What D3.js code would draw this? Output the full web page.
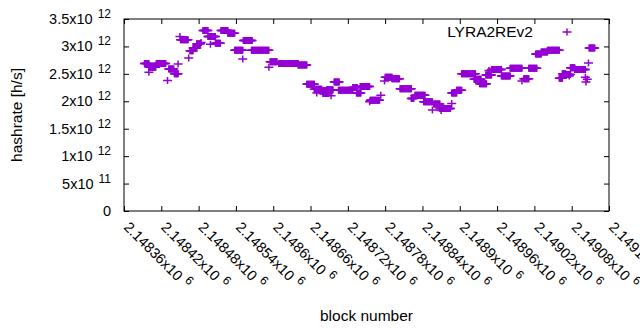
<!DOCTYPE html>
<html>
<head>
<meta charset="utf-8">
<script src="https://cdn.jsdelivr.net/npm/d3@7"></script>
<style>
  body { margin: 0; background: #fff; }
  svg { display: block; font-family: "Liberation Sans", Arial, sans-serif; }
</style>
</head>
<body>
<div id="chart"></div>
<script>
// hashrate runs: consecutive blocks sharing the same estimate (x1e12 h/s)
const runFirst = [2148393, 2148400, 2148400, 2148412, 2148430, 2148432, 2148441, 2148447, 2148450, 2148451,
  2148464, 2148466, 2148471, 2148477, 2148484, 2148487, 2148495, 2148499, 2148507, 2148516,
  2148527, 2148538, 2148551, 2148552, 2148565, 2148593, 2148595, 2148609, 2148640, 2148654,
  2148666, 2148670, 2148677, 2148680, 2148686, 2148693, 2148698, 2148705, 2148728, 2148734,
  2148740, 2148755, 2148756, 2148773, 2148779, 2148780, 2148791, 2148804, 2148822, 2148828,
  2148842, 2148856, 2148858, 2148868, 2148870, 2148887, 2148887, 2148895, 2148903, 2148923,
  2148932, 2148942, 2148947, 2148951, 2148967, 2148981, 2149000, 2149003, 2149011, 2149022,
  2149031, 2149041, 2149060, 2149065, 2149070, 2149076, 2149078, 2149085, 2149102, 2149103,
  2149105, 2149107, 2149108];
const runLast = [2148400, 2148411, 2148400, 2148427, 2148430, 2148440, 2148447, 2148447, 2148450, 2148463,
  2148464, 2148471, 2148477, 2148483, 2148484, 2148495, 2148507, 2148499, 2148515, 2148527,
  2148538, 2148551, 2148551, 2148566, 2148593, 2148593, 2148606, 2148640, 2148654, 2148666,
  2148678, 2148670, 2148688, 2148689, 2148696, 2148693, 2148706, 2148728, 2148735, 2148741,
  2148755, 2148755, 2148771, 2148773, 2148779, 2148791, 2148803, 2148822, 2148826, 2148844,
  2148856, 2148856, 2148868, 2148885, 2148870, 2148887, 2148895, 2148903, 2148925, 2148934,
  2148943, 2148951, 2148947, 2148967, 2148981, 2149000, 2149000, 2149011, 2149024, 2149031,
  2149041, 2149060, 2149065, 2149070, 2149078, 2149076, 2149085, 2149102, 2149102, 2149103,
  2149105, 2149107, 2149117];
const runRate = [2.69, 2.62, 2.53, 2.69, 2.38, 2.59, 2.50, 2.68, 3.18, 3.12,
  2.79, 2.92, 2.97, 3.05, 3.07, 3.29, 3.18, 3.04, 3.06, 3.29,
  3.24, 2.93, 2.77, 3.11, 2.93, 2.62, 2.72, 2.69, 2.66, 2.31,
  2.22, 2.15, 2.19, 2.14, 2.21, 2.10, 2.35, 2.20, 2.25, 2.15,
  2.27, 1.99, 2.02, 2.11, 2.37, 2.44, 2.41, 2.23, 2.05, 2.11,
  1.99, 1.84, 1.95, 1.87, 1.83, 1.96, 2.15, 2.20, 2.50, 2.40,
  2.32, 2.48, 2.56, 2.58, 2.46, 2.60, 2.37, 2.41, 2.60, 2.86,
  2.90, 2.93, 2.42, 2.50, 2.49, 2.46, 2.61, 2.58, 2.44, 2.35,
  2.40, 2.70, 2.97];

const xTickValues = [2148360, 2148420, 2148480, 2148540, 2148600, 2148660, 2148720,
  2148780, 2148840, 2148900, 2148960, 2149020, 2149080, 2149140];
const xTickLabels = ["2.14836", "2.14842", "2.14848", "2.14854", "2.1486", "2.14866", "2.14872",
  "2.14878", "2.14884", "2.1489", "2.14896", "2.14902", "2.14908", "2.14914"];
const yTickValues = [0, 0.5e12, 1e12, 1.5e12, 2e12, 2.5e12, 3e12, 3.5e12];
const yTickMantissa = ["0", "5x10", "1x10", "1.5x10", "2x10", "2.5x10", "3x10", "3.5x10"];
const yTickExponent = ["", "11", "12", "12", "12", "12", "12", "12"];

const width = 640;
const height = 330;
const margin = { top: 19, right: 31, bottom: 119, left: 124 };
const purple = "#9400d3";

const svg = d3.select("#chart")
  .append("svg")
  .attr("width", width)
  .attr("height", height)
  .style("overflow", "hidden");

const x = d3.scaleLinear()
  .domain([xTickValues[0], xTickValues[xTickValues.length - 1]])
  .range([margin.left, width - margin.right]);
const y = d3.scaleLinear()
  .domain([0, 3.5e12])
  .range([height - margin.bottom, margin.top]);

// ticks on all four sides, pointing inward
const tick = 5;
svg.append("g")
  .attr("transform", `translate(0,${y(0)})`)
  .call(d3.axisBottom(x).tickValues(xTickValues).tickSize(-tick).tickFormat(""));
svg.append("g")
  .attr("transform", `translate(0,${y(3.5e12)})`)
  .call(d3.axisTop(x).tickValues(xTickValues).tickSize(-tick).tickFormat(""));
svg.append("g")
  .attr("transform", `translate(${x.range()[0]},0)`)
  .call(d3.axisLeft(y).tickValues(yTickValues).tickSize(-tick).tickFormat(""));
svg.append("g")
  .attr("transform", `translate(${x.range()[1]},0)`)
  .call(d3.axisRight(y).tickValues(yTickValues).tickSize(-tick).tickFormat(""));
svg.selectAll(".domain").remove();
svg.selectAll(".tick line").attr("stroke", "#000");

svg.append("rect")
  .attr("x", x.range()[0])
  .attr("y", y.range()[1])
  .attr("width", x.range()[1] - x.range()[0])
  .attr("height", y.range()[0] - y.range()[1])
  .attr("fill", "none")
  .attr("stroke", "#000");

// y tick labels with superscript exponent
const yLab = svg.append("g")
  .attr("font-size", 14.5)
  .attr("fill", "#000");
yTickValues.forEach((v, i) => {
  const t = yLab.append("text")
    .attr("x", 111)
    .attr("y", y(v) + 5)
    .attr("text-anchor", "end");
  if (yTickExponent[i]) {
    t.append("tspan").text(yTickMantissa[i]);
    t.append("tspan").attr("dx", 5).attr("dy", -6).attr("font-size", 12).text(yTickExponent[i]);
  } else {
    t.text(yTickMantissa[i]);
  }
});

// x tick labels, rotated
const xLab = svg.append("g")
  .attr("font-size", 14.5)
  .attr("fill", "#000");
xTickValues.forEach((v, i) => {
  const t = xLab.append("text")
    .attr("transform", `translate(${x(v) - 1},${y(0) + 17}) rotate(45)`);
  t.append("tspan").text(xTickLabels[i] + "x10");
  t.append("tspan").attr("dx", 5).attr("dy", -6).attr("font-size", 12).text("6");
});

svg.append("text")
  .attr("transform", `translate(22,${(y.range()[0] + y.range()[1]) / 2}) rotate(-90)`)
  .attr("text-anchor", "middle")
  .attr("font-size", 15.5)
  .text("hashrate [h/s]");

svg.append("text")
  .attr("x", (x.range()[0] + x.range()[1]) / 2)
  .attr("y", 321)
  .attr("text-anchor", "middle")
  .attr("font-size", 15.5)
  .text("block number");

// points: one plus per block
const points = [];
runFirst.forEach((b0, i) => {
  d3.range(b0, runLast[i] + 1).forEach(b => points.push({ block: b, rate: runRate[i] * 1e12 }));
});

const plus = "M-4.5,0H4.5M0,-3.5V3.5";
svg.append("g")
  .attr("fill", "none")
  .attr("stroke", purple)
  .attr("stroke-width", 1.5)
  .selectAll("path")
  .data(points)
  .join("path")
  .attr("transform", d => `translate(${x(d.block)},${y(d.rate)})`)
  .attr("d", plus);

// legend
svg.append("text")
  .attr("x", 533)
  .attr("y", 37)
  .attr("text-anchor", "end")
  .attr("font-size", 15.5)
  .text("LYRA2REv2");
svg.append("path")
  .attr("transform", "translate(567,32)")
  .attr("d", plus)
  .attr("fill", "none")
  .attr("stroke", purple)
  .attr("stroke-width", 1.5);
</script>
</body>
</html>
